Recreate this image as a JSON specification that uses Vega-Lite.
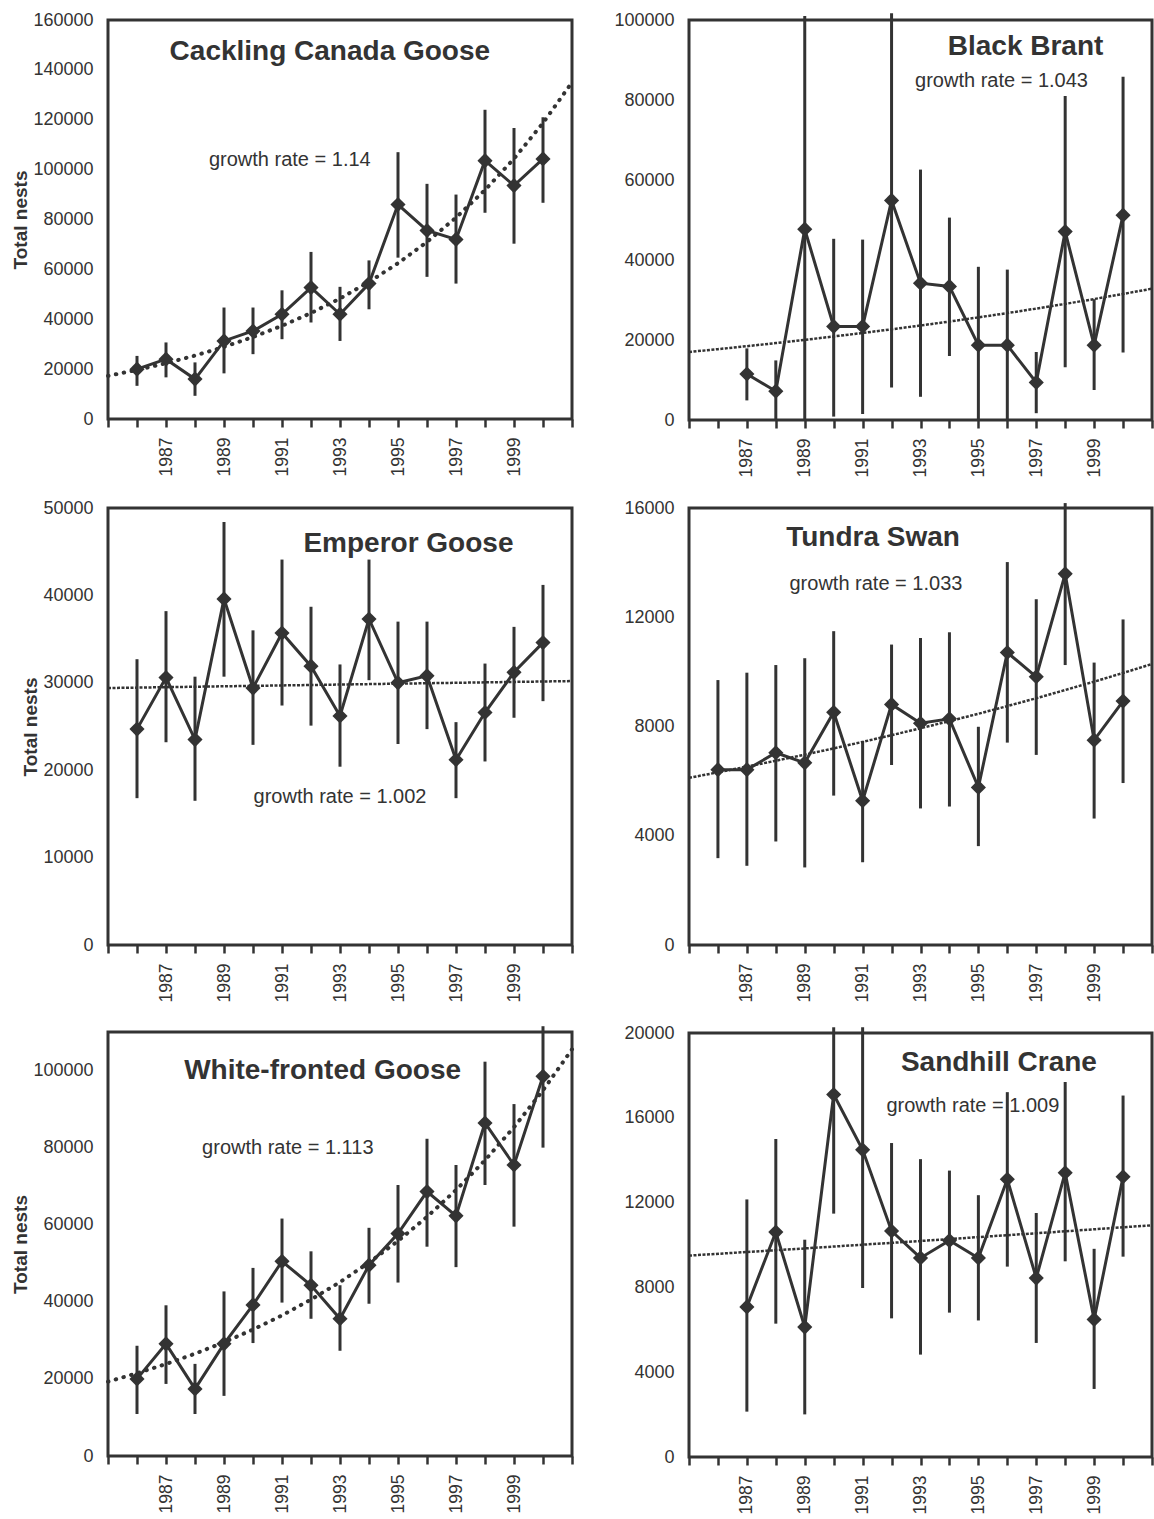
{
"$schema": "https://vega.github.io/schema/vega-lite/v6.json",
"padding": {"left": 10, "top": 9, "right": 0, "bottom": 0},
"background": "white",
"config": {
  "view": {"stroke": "#333", "strokeWidth": 3},
  "axis": {"domain": false, "grid": false, "labelFont": "Liberation Sans", "labelColor": "#333", "titleFont": "Liberation Sans", "titleColor": "#333", "labelFlush": false, "labelOverlap": false, "labelBound": false},
  "axisX": {"tickSize": 8, "tickWidth": 2.5, "tickColor": "#333", "labelAngle": 270, "labelFontSize": 17.5, "labelPadding": 10},
  "axisY": {"ticks": false, "labelFontSize": 18, "labelPadding": 15, "titleFontSize": 19, "titleFontWeight": "bold", "titlePadding": 2}
},
"datasets": {
  "obs": [
    {"sp":"Cackling Canada Goose","year":1986,"n":20000,"lo":13300,"hi":25300},
    {"sp":"Cackling Canada Goose","year":1987,"n":24000,"lo":16700,"hi":30700},
    {"sp":"Cackling Canada Goose","year":1988,"n":16000,"lo":9300,"hi":22700},
    {"sp":"Cackling Canada Goose","year":1989,"n":31300,"lo":18300,"hi":44700},
    {"sp":"Cackling Canada Goose","year":1990,"n":35300,"lo":26000,"hi":44700},
    {"sp":"Cackling Canada Goose","year":1991,"n":42000,"lo":32000,"hi":51600},
    {"sp":"Cackling Canada Goose","year":1992,"n":52700,"lo":38700,"hi":67000},
    {"sp":"Cackling Canada Goose","year":1993,"n":42000,"lo":31300,"hi":53000},
    {"sp":"Cackling Canada Goose","year":1994,"n":54300,"lo":44000,"hi":63600},
    {"sp":"Cackling Canada Goose","year":1995,"n":86000,"lo":64700,"hi":107000},
    {"sp":"Cackling Canada Goose","year":1996,"n":75600,"lo":57000,"hi":94300},
    {"sp":"Cackling Canada Goose","year":1997,"n":72000,"lo":54300,"hi":90000},
    {"sp":"Cackling Canada Goose","year":1998,"n":103600,"lo":82700,"hi":124000},
    {"sp":"Cackling Canada Goose","year":1999,"n":93600,"lo":70300,"hi":116700},
    {"sp":"Cackling Canada Goose","year":2000,"n":104300,"lo":86700,"hi":121000},
    {"sp":"Black Brant","year":1987,"n":11500,"lo":4900,"hi":17900},
    {"sp":"Black Brant","year":1988,"n":7200,"lo":0,"hi":14900},
    {"sp":"Black Brant","year":1989,"n":47700,"lo":0,"hi":101000},
    {"sp":"Black Brant","year":1990,"n":23400,"lo":850,"hi":45300},
    {"sp":"Black Brant","year":1991,"n":23400,"lo":1500,"hi":45100},
    {"sp":"Black Brant","year":1992,"n":54900,"lo":8100,"hi":101700},
    {"sp":"Black Brant","year":1993,"n":34200,"lo":5800,"hi":62600},
    {"sp":"Black Brant","year":1994,"n":33400,"lo":16000,"hi":50600},
    {"sp":"Black Brant","year":1995,"n":18700,"lo":0,"hi":38300},
    {"sp":"Black Brant","year":1996,"n":18700,"lo":0,"hi":37600},
    {"sp":"Black Brant","year":1997,"n":9400,"lo":1700,"hi":17000},
    {"sp":"Black Brant","year":1998,"n":47100,"lo":13200,"hi":81000},
    {"sp":"Black Brant","year":1999,"n":18700,"lo":7500,"hi":30200},
    {"sp":"Black Brant","year":2000,"n":51200,"lo":16900,"hi":85800},
    {"sp":"Emperor Goose","year":1986,"n":24700,"lo":16800,"hi":32700},
    {"sp":"Emperor Goose","year":1987,"n":30600,"lo":23200,"hi":38200},
    {"sp":"Emperor Goose","year":1988,"n":23500,"lo":16500,"hi":30700},
    {"sp":"Emperor Goose","year":1989,"n":39600,"lo":30700,"hi":48400},
    {"sp":"Emperor Goose","year":1990,"n":29400,"lo":22900,"hi":36000},
    {"sp":"Emperor Goose","year":1991,"n":35700,"lo":27400,"hi":44100},
    {"sp":"Emperor Goose","year":1992,"n":31900,"lo":25100,"hi":38700},
    {"sp":"Emperor Goose","year":1993,"n":26200,"lo":20400,"hi":32100},
    {"sp":"Emperor Goose","year":1994,"n":37300,"lo":30300,"hi":44100},
    {"sp":"Emperor Goose","year":1995,"n":30000,"lo":23000,"hi":37000},
    {"sp":"Emperor Goose","year":1996,"n":30800,"lo":24700,"hi":37000},
    {"sp":"Emperor Goose","year":1997,"n":21200,"lo":16800,"hi":25500},
    {"sp":"Emperor Goose","year":1998,"n":26600,"lo":21000,"hi":32200},
    {"sp":"Emperor Goose","year":1999,"n":31200,"lo":26000,"hi":36400},
    {"sp":"Emperor Goose","year":2000,"n":34600,"lo":27900,"hi":41200},
    {"sp":"Tundra Swan","year":1986,"n":6420,"lo":3180,"hi":9700},
    {"sp":"Tundra Swan","year":1987,"n":6420,"lo":2900,"hi":9970},
    {"sp":"Tundra Swan","year":1988,"n":7040,"lo":3790,"hi":10250},
    {"sp":"Tundra Swan","year":1989,"n":6670,"lo":2840,"hi":10500},
    {"sp":"Tundra Swan","year":1990,"n":8520,"lo":5470,"hi":11490},
    {"sp":"Tundra Swan","year":1991,"n":5280,"lo":3030,"hi":7470},
    {"sp":"Tundra Swan","year":1992,"n":8810,"lo":6590,"hi":11000},
    {"sp":"Tundra Swan","year":1993,"n":8120,"lo":5000,"hi":11240},
    {"sp":"Tundra Swan","year":1994,"n":8280,"lo":5070,"hi":11450},
    {"sp":"Tundra Swan","year":1995,"n":5770,"lo":3620,"hi":7990},
    {"sp":"Tundra Swan","year":1996,"n":10710,"lo":7410,"hi":14020},
    {"sp":"Tundra Swan","year":1997,"n":9820,"lo":6960,"hi":12660},
    {"sp":"Tundra Swan","year":1998,"n":13590,"lo":10250,"hi":16180},
    {"sp":"Tundra Swan","year":1999,"n":7500,"lo":4630,"hi":10340},
    {"sp":"Tundra Swan","year":2000,"n":8930,"lo":5930,"hi":11920},
    {"sp":"White-fronted Goose","year":1986,"n":20000,"lo":10900,"hi":28600},
    {"sp":"White-fronted Goose","year":1987,"n":29100,"lo":18700,"hi":39100},
    {"sp":"White-fronted Goose","year":1988,"n":17400,"lo":10900,"hi":23900},
    {"sp":"White-fronted Goose","year":1989,"n":29100,"lo":15600,"hi":42700},
    {"sp":"White-fronted Goose","year":1990,"n":39200,"lo":29300,"hi":48800},
    {"sp":"White-fronted Goose","year":1991,"n":50500,"lo":39800,"hi":61600},
    {"sp":"White-fronted Goose","year":1992,"n":44300,"lo":35600,"hi":53100},
    {"sp":"White-fronted Goose","year":1993,"n":35600,"lo":27300,"hi":44300},
    {"sp":"White-fronted Goose","year":1994,"n":49500,"lo":39500,"hi":59200},
    {"sp":"White-fronted Goose","year":1995,"n":57700,"lo":45000,"hi":70300},
    {"sp":"White-fronted Goose","year":1996,"n":68600,"lo":54300,"hi":82300},
    {"sp":"White-fronted Goose","year":1997,"n":62300,"lo":49000,"hi":75500},
    {"sp":"White-fronted Goose","year":1998,"n":86400,"lo":70300,"hi":102300},
    {"sp":"White-fronted Goose","year":1999,"n":75500,"lo":59500,"hi":91300},
    {"sp":"White-fronted Goose","year":2000,"n":98500,"lo":80000,"hi":111500},
    {"sp":"Sandhill Crane","year":1987,"n":7080,"lo":2140,"hi":12150},
    {"sp":"Sandhill Crane","year":1988,"n":10610,"lo":6290,"hi":15000},
    {"sp":"Sandhill Crane","year":1989,"n":6130,"lo":2010,"hi":10250},
    {"sp":"Sandhill Crane","year":1990,"n":17100,"lo":11480,"hi":20270},
    {"sp":"Sandhill Crane","year":1991,"n":14490,"lo":7970,"hi":20270},
    {"sp":"Sandhill Crane","year":1992,"n":10660,"lo":6540,"hi":14810},
    {"sp":"Sandhill Crane","year":1993,"n":9390,"lo":4830,"hi":14050},
    {"sp":"Sandhill Crane","year":1994,"n":10210,"lo":6810,"hi":13510},
    {"sp":"Sandhill Crane","year":1995,"n":9390,"lo":6440,"hi":12350},
    {"sp":"Sandhill Crane","year":1996,"n":13100,"lo":8980,"hi":17210},
    {"sp":"Sandhill Crane","year":1997,"n":8440,"lo":5380,"hi":11510},
    {"sp":"Sandhill Crane","year":1998,"n":13410,"lo":9230,"hi":17690},
    {"sp":"Sandhill Crane","year":1999,"n":6490,"lo":3210,"hi":9820},
    {"sp":"Sandhill Crane","year":2000,"n":13220,"lo":9450,"hi":17050}
  ],
  "trend": [
    {"sp":"Cackling Canada Goose","year":1985,"t":17300},{"sp":"Cackling Canada Goose","year":1986,"t":19670},{"sp":"Cackling Canada Goose","year":1987,"t":22365},{"sp":"Cackling Canada Goose","year":1988,"t":25430},{"sp":"Cackling Canada Goose","year":1989,"t":28914},{"sp":"Cackling Canada Goose","year":1990,"t":32875},{"sp":"Cackling Canada Goose","year":1991,"t":37379},{"sp":"Cackling Canada Goose","year":1992,"t":42500},{"sp":"Cackling Canada Goose","year":1993,"t":48323},{"sp":"Cackling Canada Goose","year":1994,"t":54943},{"sp":"Cackling Canada Goose","year":1995,"t":62470},{"sp":"Cackling Canada Goose","year":1996,"t":71029},{"sp":"Cackling Canada Goose","year":1997,"t":80760},{"sp":"Cackling Canada Goose","year":1998,"t":91824},{"sp":"Cackling Canada Goose","year":1999,"t":104404},{"sp":"Cackling Canada Goose","year":2000,"t":118707},{"sp":"Cackling Canada Goose","year":2001,"t":134970},
    {"sp":"Black Brant","year":1985,"t":17000},{"sp":"Black Brant","year":1986,"t":17714},{"sp":"Black Brant","year":1987,"t":18458},{"sp":"Black Brant","year":1988,"t":19233},{"sp":"Black Brant","year":1989,"t":20041},{"sp":"Black Brant","year":1990,"t":20883},{"sp":"Black Brant","year":1991,"t":21760},{"sp":"Black Brant","year":1992,"t":22674},{"sp":"Black Brant","year":1993,"t":23626},{"sp":"Black Brant","year":1994,"t":24618},{"sp":"Black Brant","year":1995,"t":25652},{"sp":"Black Brant","year":1996,"t":26729},{"sp":"Black Brant","year":1997,"t":27852},{"sp":"Black Brant","year":1998,"t":29022},{"sp":"Black Brant","year":1999,"t":30241},{"sp":"Black Brant","year":2000,"t":31511},{"sp":"Black Brant","year":2001,"t":32834},
    {"sp":"Emperor Goose","year":1985,"t":29400},{"sp":"Emperor Goose","year":1989,"t":29600},{"sp":"Emperor Goose","year":1993,"t":29800},{"sp":"Emperor Goose","year":1997,"t":30000},{"sp":"Emperor Goose","year":2001,"t":30200},
    {"sp":"Tundra Swan","year":1985,"t":6120},{"sp":"Tundra Swan","year":1986,"t":6322},{"sp":"Tundra Swan","year":1987,"t":6531},{"sp":"Tundra Swan","year":1988,"t":6746},{"sp":"Tundra Swan","year":1989,"t":6969},{"sp":"Tundra Swan","year":1990,"t":7199},{"sp":"Tundra Swan","year":1991,"t":7436},{"sp":"Tundra Swan","year":1992,"t":7682},{"sp":"Tundra Swan","year":1993,"t":7935},{"sp":"Tundra Swan","year":1994,"t":8197},{"sp":"Tundra Swan","year":1995,"t":8467},{"sp":"Tundra Swan","year":1996,"t":8747},{"sp":"Tundra Swan","year":1997,"t":9035},{"sp":"Tundra Swan","year":1998,"t":9334},{"sp":"Tundra Swan","year":1999,"t":9642},{"sp":"Tundra Swan","year":2000,"t":9960},{"sp":"Tundra Swan","year":2001,"t":10288},
    {"sp":"White-fronted Goose","year":1985,"t":19300},{"sp":"White-fronted Goose","year":1986,"t":21462},{"sp":"White-fronted Goose","year":1987,"t":23865},{"sp":"White-fronted Goose","year":1988,"t":26538},{"sp":"White-fronted Goose","year":1989,"t":29511},{"sp":"White-fronted Goose","year":1990,"t":32816},{"sp":"White-fronted Goose","year":1991,"t":36491},{"sp":"White-fronted Goose","year":1992,"t":40578},{"sp":"White-fronted Goose","year":1993,"t":45123},{"sp":"White-fronted Goose","year":1994,"t":50177},{"sp":"White-fronted Goose","year":1995,"t":55797},{"sp":"White-fronted Goose","year":1996,"t":62046},{"sp":"White-fronted Goose","year":1997,"t":68995},{"sp":"White-fronted Goose","year":1998,"t":76723},{"sp":"White-fronted Goose","year":1999,"t":85316},{"sp":"White-fronted Goose","year":2000,"t":94871},{"sp":"White-fronted Goose","year":2001,"t":105497},
    {"sp":"Sandhill Crane","year":1985,"t":9500},{"sp":"Sandhill Crane","year":1989,"t":9839},{"sp":"Sandhill Crane","year":1993,"t":10190},{"sp":"Sandhill Crane","year":1997,"t":10553},{"sp":"Sandhill Crane","year":2001,"t":10930}
  ],
  "lab": [
    {"sp":"Cackling Canada Goose","kind":"title","year":1992.65,"n":147300,"txt":"Cackling Canada Goose"},
    {"sp":"Cackling Canada Goose","kind":"rate","year":1991.27,"n":104000,"txt":"growth rate = 1.14"},
    {"sp":"Black Brant","kind":"title","year":1996.63,"n":93200,"txt":"Black Brant"},
    {"sp":"Black Brant","kind":"rate","year":1995.8,"n":84700,"txt":"growth rate = 1.043"},
    {"sp":"Emperor Goose","kind":"title","year":1995.36,"n":45900,"txt":"Emperor Goose"},
    {"sp":"Emperor Goose","kind":"rate","year":1993.0,"n":16960,"txt":"growth rate = 1.002"},
    {"sp":"Tundra Swan","kind":"title","year":1991.36,"n":14890,"txt":"Tundra Swan"},
    {"sp":"Tundra Swan","kind":"rate","year":1991.46,"n":13220,"txt":"growth rate = 1.033"},
    {"sp":"White-fronted Goose","kind":"title","year":1992.4,"n":99800,"txt":"White-fronted Goose"},
    {"sp":"White-fronted Goose","kind":"rate","year":1991.2,"n":79900,"txt":"growth rate = 1.113"},
    {"sp":"Sandhill Crane","kind":"title","year":1995.71,"n":18600,"txt":"Sandhill Crane"},
    {"sp":"Sandhill Crane","kind":"rate","year":1994.81,"n":16580,"txt":"growth rate = 1.009"}
  ]
},
"hconcat": [
 {"vconcat": [
  {"width": 464, "height": 399,
   "encoding": {"x": {"field": "year", "type": "quantitative", "scale": {"domain": [1985, 2001], "nice": false, "zero": false}, "axis": {"values": [1985,1986,1987,1988,1989,1990,1991,1992,1993,1994,1995,1996,1997,1998,1999,2000,2001], "format": "d", "labelExpr": "datum.value >= 1987 && datum.value <= 1999 && datum.value % 2 == 1 ? datum.label : ''", "title": null}}},
   "layer": [
    {"data": {"name": "trend"}, "transform": [{"filter": "datum.sp == 'Cackling Canada Goose'"}], "mark": {"type": "line", "color": "#333", "strokeWidth": 4, "strokeDash": [0.5, 7.5], "strokeCap": "round"},
     "encoding": {"y": {"field": "t", "type": "quantitative", "scale": {"domain": [0, 160000], "nice": false}, "axis": {"values": [0,20000,40000,60000,80000,100000,120000,140000,160000], "format": "d", "title": "Total nests"}}}},
    {"data": {"name": "obs"}, "transform": [{"filter": "datum.sp == 'Cackling Canada Goose'"}], "mark": {"type": "rule", "color": "#333", "strokeWidth": 3},
     "encoding": {"y": {"field": "lo", "type": "quantitative", "scale": {"domain": [0, 160000], "nice": false}}, "y2": {"field": "hi"}}},
    {"data": {"name": "obs"}, "transform": [{"filter": "datum.sp == 'Cackling Canada Goose'"}], "mark": {"type": "line", "color": "#333", "strokeWidth": 3},
     "encoding": {"y": {"field": "n", "type": "quantitative", "scale": {"domain": [0, 160000], "nice": false}}}},
    {"data": {"name": "obs"}, "transform": [{"filter": "datum.sp == 'Cackling Canada Goose'"}], "mark": {"type": "point", "shape": "diamond", "filled": true, "size": 230, "color": "#333", "opacity": 1},
     "encoding": {"y": {"field": "n", "type": "quantitative", "scale": {"domain": [0, 160000], "nice": false}}}},
    {"data": {"name": "lab"}, "transform": [{"filter": "datum.sp == 'Cackling Canada Goose' && datum.kind == 'title'"}], "mark": {"type": "text", "font": "Liberation Sans", "fontSize": 28, "fontWeight": "bold", "color": "#333"},
     "encoding": {"y": {"field": "n", "type": "quantitative", "scale": {"domain": [0, 160000], "nice": false}}, "text": {"field": "txt"}}},
    {"data": {"name": "lab"}, "transform": [{"filter": "datum.sp == 'Cackling Canada Goose' && datum.kind == 'rate'"}], "mark": {"type": "text", "font": "Liberation Sans", "fontSize": 20, "color": "#333"},
     "encoding": {"y": {"field": "n", "type": "quantitative", "scale": {"domain": [0, 160000], "nice": false}}, "text": {"field": "txt"}}}
   ]},
  {"width": 464, "height": 437,
   "encoding": {"x": {"field": "year", "type": "quantitative", "scale": {"domain": [1985, 2001], "nice": false, "zero": false}, "axis": {"values": [1985,1986,1987,1988,1989,1990,1991,1992,1993,1994,1995,1996,1997,1998,1999,2000,2001], "format": "d", "labelExpr": "datum.value >= 1987 && datum.value <= 1999 && datum.value % 2 == 1 ? datum.label : ''", "title": null}}},
   "layer": [
    {"data": {"name": "trend"}, "transform": [{"filter": "datum.sp == 'Emperor Goose'"}], "mark": {"type": "line", "color": "#333", "strokeWidth": 2.5, "strokeDash": [3, 1.5]},
     "encoding": {"y": {"field": "t", "type": "quantitative", "scale": {"domain": [0, 50000], "nice": false}, "axis": {"values": [0,10000,20000,30000,40000,50000], "format": "d", "title": "Total nests"}}}},
    {"data": {"name": "obs"}, "transform": [{"filter": "datum.sp == 'Emperor Goose'"}], "mark": {"type": "rule", "color": "#333", "strokeWidth": 3},
     "encoding": {"y": {"field": "lo", "type": "quantitative", "scale": {"domain": [0, 50000], "nice": false}}, "y2": {"field": "hi"}}},
    {"data": {"name": "obs"}, "transform": [{"filter": "datum.sp == 'Emperor Goose'"}], "mark": {"type": "line", "color": "#333", "strokeWidth": 3},
     "encoding": {"y": {"field": "n", "type": "quantitative", "scale": {"domain": [0, 50000], "nice": false}}}},
    {"data": {"name": "obs"}, "transform": [{"filter": "datum.sp == 'Emperor Goose'"}], "mark": {"type": "point", "shape": "diamond", "filled": true, "size": 230, "color": "#333", "opacity": 1},
     "encoding": {"y": {"field": "n", "type": "quantitative", "scale": {"domain": [0, 50000], "nice": false}}}},
    {"data": {"name": "lab"}, "transform": [{"filter": "datum.sp == 'Emperor Goose' && datum.kind == 'title'"}], "mark": {"type": "text", "font": "Liberation Sans", "fontSize": 28, "fontWeight": "bold", "color": "#333"},
     "encoding": {"y": {"field": "n", "type": "quantitative", "scale": {"domain": [0, 50000], "nice": false}}, "text": {"field": "txt"}}},
    {"data": {"name": "lab"}, "transform": [{"filter": "datum.sp == 'Emperor Goose' && datum.kind == 'rate'"}], "mark": {"type": "text", "font": "Liberation Sans", "fontSize": 20, "color": "#333"},
     "encoding": {"y": {"field": "n", "type": "quantitative", "scale": {"domain": [0, 50000], "nice": false}}, "text": {"field": "txt"}}}
   ]},
  {"width": 464, "height": 424,
   "encoding": {"x": {"field": "year", "type": "quantitative", "scale": {"domain": [1985, 2001], "nice": false, "zero": false}, "axis": {"values": [1985,1986,1987,1988,1989,1990,1991,1992,1993,1994,1995,1996,1997,1998,1999,2000,2001], "format": "d", "labelExpr": "datum.value >= 1987 && datum.value <= 1999 && datum.value % 2 == 1 ? datum.label : ''", "title": null}}},
   "layer": [
    {"data": {"name": "trend"}, "transform": [{"filter": "datum.sp == 'White-fronted Goose'"}], "mark": {"type": "line", "color": "#333", "strokeWidth": 4, "strokeDash": [0.5, 7.5], "strokeCap": "round"},
     "encoding": {"y": {"field": "t", "type": "quantitative", "scale": {"domain": [0, 110000], "nice": false}, "axis": {"values": [0,20000,40000,60000,80000,100000], "format": "d", "title": "Total nests"}}}},
    {"data": {"name": "obs"}, "transform": [{"filter": "datum.sp == 'White-fronted Goose'"}], "mark": {"type": "rule", "color": "#333", "strokeWidth": 3},
     "encoding": {"y": {"field": "lo", "type": "quantitative", "scale": {"domain": [0, 110000], "nice": false}}, "y2": {"field": "hi"}}},
    {"data": {"name": "obs"}, "transform": [{"filter": "datum.sp == 'White-fronted Goose'"}], "mark": {"type": "line", "color": "#333", "strokeWidth": 3},
     "encoding": {"y": {"field": "n", "type": "quantitative", "scale": {"domain": [0, 110000], "nice": false}}}},
    {"data": {"name": "obs"}, "transform": [{"filter": "datum.sp == 'White-fronted Goose'"}], "mark": {"type": "point", "shape": "diamond", "filled": true, "size": 230, "color": "#333", "opacity": 1},
     "encoding": {"y": {"field": "n", "type": "quantitative", "scale": {"domain": [0, 110000], "nice": false}}}},
    {"data": {"name": "lab"}, "transform": [{"filter": "datum.sp == 'White-fronted Goose' && datum.kind == 'title'"}], "mark": {"type": "text", "font": "Liberation Sans", "fontSize": 28, "fontWeight": "bold", "color": "#333"},
     "encoding": {"y": {"field": "n", "type": "quantitative", "scale": {"domain": [0, 110000], "nice": false}}, "text": {"field": "txt"}}},
    {"data": {"name": "lab"}, "transform": [{"filter": "datum.sp == 'White-fronted Goose' && datum.kind == 'rate'"}], "mark": {"type": "text", "font": "Liberation Sans", "fontSize": 20, "color": "#333"},
     "encoding": {"y": {"field": "n", "type": "quantitative", "scale": {"domain": [0, 110000], "nice": false}}, "text": {"field": "txt"}}}
   ]}
 ], "spacing": 19},
 {"vconcat": [
  {"width": 463, "height": 400,
   "encoding": {"x": {"field": "year", "type": "quantitative", "scale": {"domain": [1985, 2001], "nice": false, "zero": false}, "axis": {"values": [1985,1986,1987,1988,1989,1990,1991,1992,1993,1994,1995,1996,1997,1998,1999,2000,2001], "format": "d", "labelExpr": "datum.value >= 1987 && datum.value <= 1999 && datum.value % 2 == 1 ? datum.label : ''", "title": null}}},
   "layer": [
    {"data": {"name": "trend"}, "transform": [{"filter": "datum.sp == 'Black Brant'"}], "mark": {"type": "line", "color": "#333", "strokeWidth": 2.5, "strokeDash": [3, 1.5]},
     "encoding": {"y": {"field": "t", "type": "quantitative", "scale": {"domain": [0, 100000], "nice": false}, "axis": {"values": [0,20000,40000,60000,80000,100000], "format": "d", "title": null}}}},
    {"data": {"name": "obs"}, "transform": [{"filter": "datum.sp == 'Black Brant'"}], "mark": {"type": "rule", "color": "#333", "strokeWidth": 3},
     "encoding": {"y": {"field": "lo", "type": "quantitative", "scale": {"domain": [0, 100000], "nice": false}}, "y2": {"field": "hi"}}},
    {"data": {"name": "obs"}, "transform": [{"filter": "datum.sp == 'Black Brant'"}], "mark": {"type": "line", "color": "#333", "strokeWidth": 3},
     "encoding": {"y": {"field": "n", "type": "quantitative", "scale": {"domain": [0, 100000], "nice": false}}}},
    {"data": {"name": "obs"}, "transform": [{"filter": "datum.sp == 'Black Brant'"}], "mark": {"type": "point", "shape": "diamond", "filled": true, "size": 230, "color": "#333", "opacity": 1},
     "encoding": {"y": {"field": "n", "type": "quantitative", "scale": {"domain": [0, 100000], "nice": false}}}},
    {"data": {"name": "lab"}, "transform": [{"filter": "datum.sp == 'Black Brant' && datum.kind == 'title'"}], "mark": {"type": "text", "font": "Liberation Sans", "fontSize": 28, "fontWeight": "bold", "color": "#333"},
     "encoding": {"y": {"field": "n", "type": "quantitative", "scale": {"domain": [0, 100000], "nice": false}}, "text": {"field": "txt"}}},
    {"data": {"name": "lab"}, "transform": [{"filter": "datum.sp == 'Black Brant' && datum.kind == 'rate'"}], "mark": {"type": "text", "font": "Liberation Sans", "fontSize": 20, "color": "#333"},
     "encoding": {"y": {"field": "n", "type": "quantitative", "scale": {"domain": [0, 100000], "nice": false}}, "text": {"field": "txt"}}}
   ]},
  {"width": 463, "height": 437,
   "encoding": {"x": {"field": "year", "type": "quantitative", "scale": {"domain": [1985, 2001], "nice": false, "zero": false}, "axis": {"values": [1985,1986,1987,1988,1989,1990,1991,1992,1993,1994,1995,1996,1997,1998,1999,2000,2001], "format": "d", "labelExpr": "datum.value >= 1987 && datum.value <= 1999 && datum.value % 2 == 1 ? datum.label : ''", "title": null}}},
   "layer": [
    {"data": {"name": "trend"}, "transform": [{"filter": "datum.sp == 'Tundra Swan'"}], "mark": {"type": "line", "color": "#333", "strokeWidth": 2.5, "strokeDash": [3, 1.5]},
     "encoding": {"y": {"field": "t", "type": "quantitative", "scale": {"domain": [0, 16000], "nice": false}, "axis": {"values": [0,4000,8000,12000,16000], "format": "d", "title": null}}}},
    {"data": {"name": "obs"}, "transform": [{"filter": "datum.sp == 'Tundra Swan'"}], "mark": {"type": "rule", "color": "#333", "strokeWidth": 3},
     "encoding": {"y": {"field": "lo", "type": "quantitative", "scale": {"domain": [0, 16000], "nice": false}}, "y2": {"field": "hi"}}},
    {"data": {"name": "obs"}, "transform": [{"filter": "datum.sp == 'Tundra Swan'"}], "mark": {"type": "line", "color": "#333", "strokeWidth": 3},
     "encoding": {"y": {"field": "n", "type": "quantitative", "scale": {"domain": [0, 16000], "nice": false}}}},
    {"data": {"name": "obs"}, "transform": [{"filter": "datum.sp == 'Tundra Swan'"}], "mark": {"type": "point", "shape": "diamond", "filled": true, "size": 230, "color": "#333", "opacity": 1},
     "encoding": {"y": {"field": "n", "type": "quantitative", "scale": {"domain": [0, 16000], "nice": false}}}},
    {"data": {"name": "lab"}, "transform": [{"filter": "datum.sp == 'Tundra Swan' && datum.kind == 'title'"}], "mark": {"type": "text", "font": "Liberation Sans", "fontSize": 28, "fontWeight": "bold", "color": "#333"},
     "encoding": {"y": {"field": "n", "type": "quantitative", "scale": {"domain": [0, 16000], "nice": false}}, "text": {"field": "txt"}}},
    {"data": {"name": "lab"}, "transform": [{"filter": "datum.sp == 'Tundra Swan' && datum.kind == 'rate'"}], "mark": {"type": "text", "font": "Liberation Sans", "fontSize": 20, "color": "#333"},
     "encoding": {"y": {"field": "n", "type": "quantitative", "scale": {"domain": [0, 16000], "nice": false}}, "text": {"field": "txt"}}}
   ]},
  {"width": 463, "height": 424,
   "encoding": {"x": {"field": "year", "type": "quantitative", "scale": {"domain": [1985, 2001], "nice": false, "zero": false}, "axis": {"values": [1985,1986,1987,1988,1989,1990,1991,1992,1993,1994,1995,1996,1997,1998,1999,2000,2001], "format": "d", "labelExpr": "datum.value >= 1987 && datum.value <= 1999 && datum.value % 2 == 1 ? datum.label : ''", "title": null}}},
   "layer": [
    {"data": {"name": "trend"}, "transform": [{"filter": "datum.sp == 'Sandhill Crane'"}], "mark": {"type": "line", "color": "#333", "strokeWidth": 2.5, "strokeDash": [3, 1.5]},
     "encoding": {"y": {"field": "t", "type": "quantitative", "scale": {"domain": [0, 20000], "nice": false}, "axis": {"values": [0,4000,8000,12000,16000,20000], "format": "d", "title": null}}}},
    {"data": {"name": "obs"}, "transform": [{"filter": "datum.sp == 'Sandhill Crane'"}], "mark": {"type": "rule", "color": "#333", "strokeWidth": 3},
     "encoding": {"y": {"field": "lo", "type": "quantitative", "scale": {"domain": [0, 20000], "nice": false}}, "y2": {"field": "hi"}}},
    {"data": {"name": "obs"}, "transform": [{"filter": "datum.sp == 'Sandhill Crane'"}], "mark": {"type": "line", "color": "#333", "strokeWidth": 3},
     "encoding": {"y": {"field": "n", "type": "quantitative", "scale": {"domain": [0, 20000], "nice": false}}}},
    {"data": {"name": "obs"}, "transform": [{"filter": "datum.sp == 'Sandhill Crane'"}], "mark": {"type": "point", "shape": "diamond", "filled": true, "size": 230, "color": "#333", "opacity": 1},
     "encoding": {"y": {"field": "n", "type": "quantitative", "scale": {"domain": [0, 20000], "nice": false}}}},
    {"data": {"name": "lab"}, "transform": [{"filter": "datum.sp == 'Sandhill Crane' && datum.kind == 'title'"}], "mark": {"type": "text", "font": "Liberation Sans", "fontSize": 28, "fontWeight": "bold", "color": "#333"},
     "encoding": {"y": {"field": "n", "type": "quantitative", "scale": {"domain": [0, 20000], "nice": false}}, "text": {"field": "txt"}}},
    {"data": {"name": "lab"}, "transform": [{"filter": "datum.sp == 'Sandhill Crane' && datum.kind == 'rate'"}], "mark": {"type": "text", "font": "Liberation Sans", "fontSize": 20, "color": "#333"},
     "encoding": {"y": {"field": "n", "type": "quantitative", "scale": {"domain": [0, 20000], "nice": false}}, "text": {"field": "txt"}}}
   ]}
 ], "spacing": 18}
],
"spacing": 30
}
